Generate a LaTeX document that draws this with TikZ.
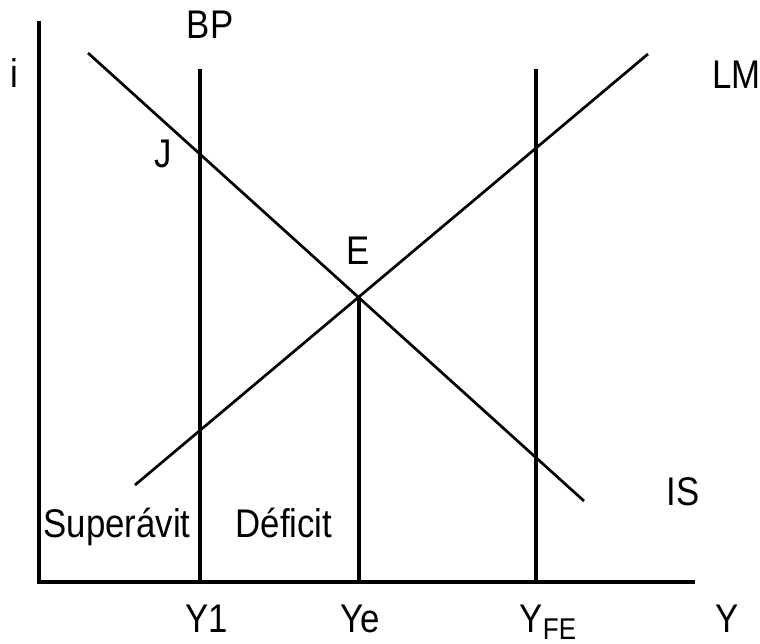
\documentclass[tikz,border=0pt]{standalone}
\usepackage{fontspec}
\setmainfont[FakeStretch=0.87]{Liberation Sans}
\usetikzlibrary{positioning,calc}

\begin{document}
\begin{tikzpicture}[x=1pt,y=-1pt]
\tikzset{lbl/.style={font=\fontsize{40}{40}\selectfont,inner sep=0pt,anchor=base},
  axis/.style={line width=3.4pt},
  curve/.style={line width=2.7pt}}
\useasboundingbox (0,0) rectangle (760,644);
% axes
\coordinate (top) at (39,21);
\coordinate (O) at (39,582);
\coordinate (xend) at (695,582);
\draw[axis] (top) -- (O) -- (xend);
% BP and full employment lines
\coordinate (bp1) at (200,69);
\coordinate (bp0) at (200,582);
\coordinate (fe1) at (536,69);
\coordinate (fe0) at (536,582);
\draw[axis] (bp1) -- (bp0);
\draw[axis] (fe1) -- (fe0);
% IS and LM
\coordinate (is1) at (88,53);
\coordinate (is0) at (584,501);
\coordinate (lm0) at (135,485);
\coordinate (lm1) at (648,54);
\draw[curve] (is1) -- (is0);
\draw[curve] (lm0) -- (lm1);
\coordinate (E) at (359,297);
\coordinate (ye0) at (359,582);
\draw[axis] (E) -- (ye0);
% labels
\node[lbl] (i) at (14,88) {i};
\node[lbl] (BP) at (210,39) {BP};
\node[lbl] (J) at (163,168) {J};
\node[lbl] (Elbl) at (358,265) {E};
\node[lbl,anchor=base west] (LM) at (712,89) {LM};
\node[lbl] (IS) at (683,505) {IS};
\node[lbl] (sup) at (117,537) {Superávit};
\node[lbl] (def) at (284,537) {Déficit};
\node[lbl] (Y1) at (207,632) {Y1};
\node[lbl] (Ye) at (360,632) {Ye};
\node[lbl] (Yfe) at (548,632) {Y\raisebox{-7pt}{\fontsize{30}{30}\selectfont FE}};
\node[lbl] (Y) at (727,632) {Y};
\end{tikzpicture}
\end{document}
